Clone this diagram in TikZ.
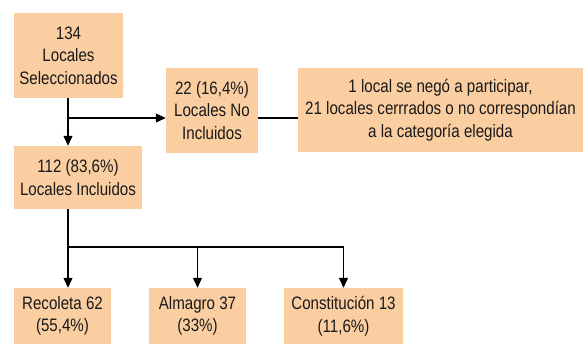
\documentclass[tikz,border=0pt]{standalone}
\usepackage{fontspec}
\setmainfont[FakeStretch=0.84]{Liberation Sans}
\usetikzlibrary{arrows.meta}
\definecolor{cajafondo}{RGB}{251,206,162}
\tikzset{
  caja/.style={fill=cajafondo, inner sep=0pt, align=center, text=black!90,
    font=\fontsize{18}{22.5}\selectfont},
  flecha/.style={line width=1.2pt, -{Triangle[length=10pt,width=9pt]}},
  linea/.style={line width=1.2pt}
}

\begin{document}
\begin{tikzpicture}[x=1pt,y=-1pt]
    \useasboundingbox (0,0) rectangle (584,344);
    \node[caja, minimum width=109pt, minimum height=85pt] (sel)    at (68.5,55.5) {134\\Locales\\Seleccionados};
    \node[caja, minimum width=92pt,  minimum height=85pt] (noinc)  at (212,110.5) {22 (16,4\%)\\Locales No\\Incluidos};
    \node[caja, minimum width=285pt, minimum height=84pt] (motivo) at (440.5,110) {1 local se negó a participar,\\21 locales cerrrados o no correspondían\\a la categoría elegida};
    \node[caja, minimum width=128pt, minimum height=63pt] (inc)    at (78,177.5) {112 (83,6\%)\\Locales Incluidos};
    \node[caja, minimum width=97pt,  minimum height=56pt] (rec)    at (62.5,316) {Recoleta 62\\(55,4\%)};
    \node[caja, minimum width=97pt,  minimum height=56pt] (alm)    at (197.5,316) {Almagro 37\\(33\%)};
    \node[caja, minimum width=119pt, minimum height=56pt] (con)    at (343.5,316) {Constitución 13\\(11,6\%)};
    %
    \coordinate (rama) at (68,118);
    \coordinate (reparto) at (68,247);
    \draw[flecha] (sel.south -| rama) -- (rama |- inc.north);
    \draw[flecha] (rama) -- (rama -| noinc.west);
    \draw[linea] (rama -| noinc.east) -- (rama -| motivo.west);
    %
    \draw[linea] (inc.south -| reparto) -- (reparto) -- (reparto -| con.north);
    \draw[flecha] (reparto) -- (reparto |- rec.north);
    \draw[flecha] (reparto -| alm.north) -- (alm.north);
    \draw[flecha] (reparto -| con.north) -- (con.north);
\end{tikzpicture}
\end{document}
